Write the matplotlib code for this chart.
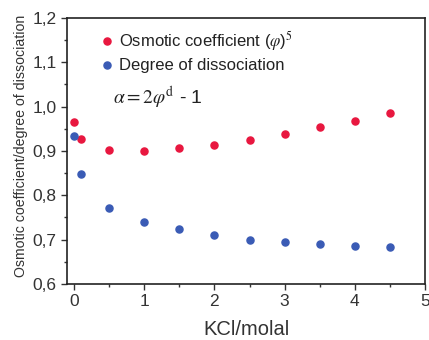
import numpy as np
import matplotlib.pyplot as plt
from matplotlib.ticker import MultipleLocator, FuncFormatter

plt.rcParams['font.family'] = ['Liberation Sans', 'DejaVu Sans']
plt.rcParams['mathtext.fontset'] = 'stix'

# KCl molality and measured values
kcl = [0, 0.1, 0.5, 1.0, 1.5, 2.0, 2.5, 3.0, 3.5, 4.0, 4.5]
osmotic = [0.966, 0.927, 0.902, 0.901, 0.906, 0.914, 0.925, 0.938, 0.953, 0.968, 0.985]
dissociation = [0.934, 0.849, 0.772, 0.740, 0.723, 0.710, 0.700, 0.695, 0.690, 0.686, 0.683]

fig = plt.figure(figsize=(4.29, 3.40), dpi=100)
ax = fig.add_axes([0.156, 0.165, 0.835, 0.782])

ax.scatter(kcl, osmotic, s=26, color='#e8173f', zorder=3)
ax.scatter(kcl, dissociation, s=26, color='#3a5bb5', zorder=3)

ax.set_xlim(-0.1, 5)
ax.set_ylim(0.6, 1.2)
ax.xaxis.set_major_locator(MultipleLocator(1))
ax.xaxis.set_minor_locator(MultipleLocator(0.5))
ax.yaxis.set_major_locator(MultipleLocator(0.1))
ax.yaxis.set_minor_locator(MultipleLocator(0.05))
ax.yaxis.set_major_formatter(FuncFormatter(lambda v, p: f"{v:.1f}".replace('.', ',')))
ax.tick_params(which='major', direction='out', length=4, width=1, labelsize=12.5, colors='#333333')
ax.tick_params(which='minor', direction='out', length=2.5, width=1, colors='#333333')
for s in ax.spines.values():
    s.set_linewidth(1.2)
    s.set_color('#222222')

ax.set_xlabel("KCl/molal", fontsize=14.5, color='#333333', labelpad=8)
ax.set_ylabel("Osmotic coefficient/degree of dissociation", fontsize=10.2, color='#333333')
ax.yaxis.set_label_coords(-0.11, 0.52)

# legend-style annotation
ax.scatter([0.47], [1.148], s=26, color='#e8173f')
ax.text(0.64, 1.148, r"Osmotic coefficient ($\varphi$)$^5$", fontsize=12, va='center', color='#222222')
ax.scatter([0.47], [1.093], s=26, color='#3a5bb5')
ax.text(0.64, 1.093, "Degree of dissociation", fontsize=12, va='center', color='#222222')
ax.text(0.56, 1.02, r"$\alpha = 2\varphi^{\mathrm{d}}$ - 1", fontsize=14, va='center', color='#222222')

fig.savefig("out.png", dpi=100)
